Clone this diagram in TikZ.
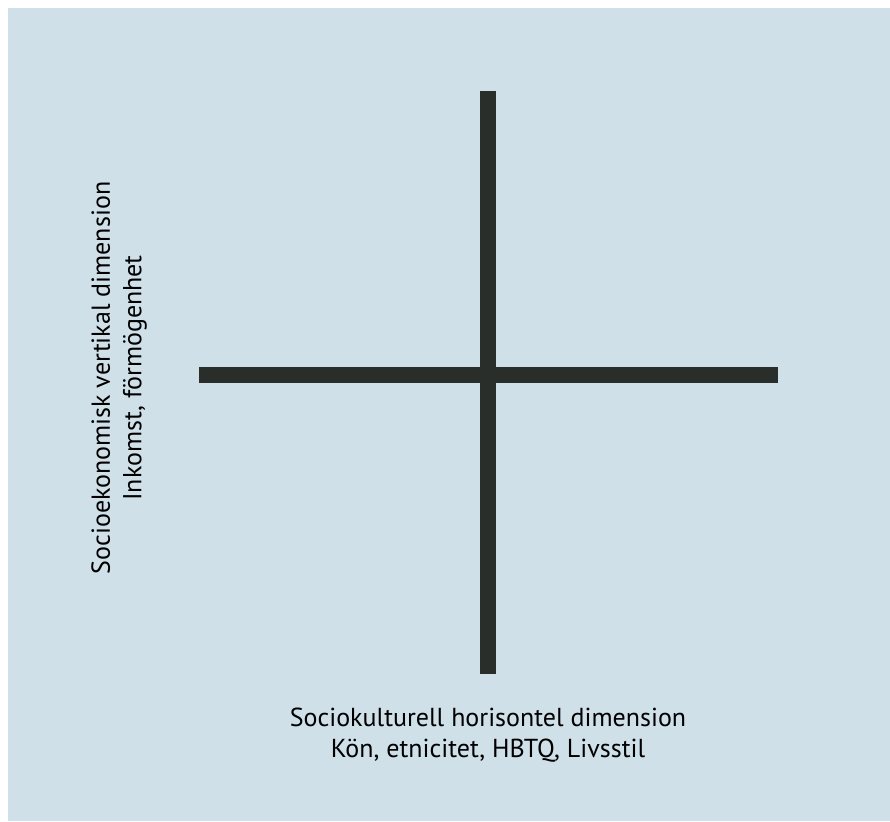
\documentclass[tikz,border=0pt]{standalone}
\usepackage{xcolor}
\usepackage{fontspec}
\setmainfont{PT Sans}
\usepackage{tikz}
\usetikzlibrary{positioning}
\definecolor{bgblue}{HTML}{CFE0E8}
\definecolor{crossdark}{HTML}{2A2E2A}

\tikzset{
  axisbar/.style={draw=crossdark, line width=16pt},
  axislabel/.style={align=center, font=\fontsize{26}{31.5}\selectfont, text=black, inner sep=0pt}
}

\begin{document}
\begin{tikzpicture}[x=1pt, y=-1pt]
  \useasboundingbox (0,0) rectangle (890,821);
  \fill[bgblue] (8,8) rectangle (890,821);
  % the cross
  \coordinate (top) at (488,91);
  \coordinate (bottom) at (488,674);
  \coordinate (left) at (199,375);
  \coordinate (right) at (778,375);
  \draw[axisbar] (left) -- (right);
  \draw[axisbar] (top) -- (bottom);
  % labels
  \node[axislabel] (horiz) at (488,735) {Sociokulturell horisontel dimension\\
    Kön, etnicitet, HBTQ, Livsstil};
  \node[axislabel, rotate=90] (vert) at (119,378) {Socioekonomisk vertikal dimension\\
    Inkomst, förmögenhet};
\end{tikzpicture}
\end{document}
